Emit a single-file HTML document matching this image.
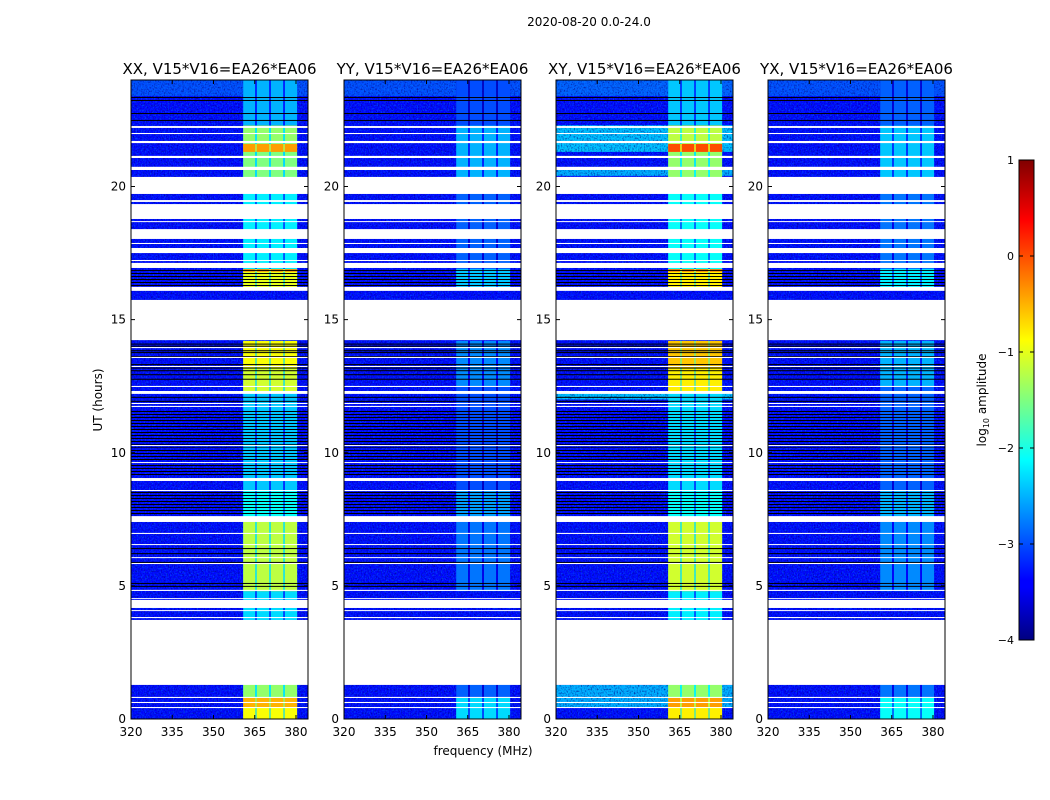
<!DOCTYPE html>
<html><head><meta charset="utf-8"><style>
html,body{margin:0;padding:0;background:#fff;}
svg{display:block;font-family:"DejaVu Sans","Liberation Sans",sans-serif;}
</style></head><body>
<svg id="fig" width="1050" height="800" viewBox="0 0 1050 800" xmlns="http://www.w3.org/2000/svg">
<defs>
<filter id="noise" x="0" y="0" width="100%" height="100%" filterUnits="objectBoundingBox" color-interpolation-filters="sRGB">
<feTurbulence type="fractalNoise" baseFrequency="0.7 0.55" numOctaves="2" seed="3" result="t"/>
<feColorMatrix in="t" type="matrix" values="0 0 0 0 0  0 0 0 0 0  0 0 0 0 0.5  2.0 0 0 0 -0.95"/>
</filter>
<filter id="noise2" x="0" y="0" width="100%" height="100%" filterUnits="objectBoundingBox" color-interpolation-filters="sRGB">
<feTurbulence type="fractalNoise" baseFrequency="0.75 0.6" numOctaves="2" seed="11" result="t"/>
<feColorMatrix in="t" type="matrix" values="0 0 0 0 0  0 0 0 0 0.55  0 0 0 0 1  0 2.2 0 0 -1.0"/>
</filter>
<pattern id="dense" width="4" height="3" patternUnits="userSpaceOnUse"><rect width="4" height="1" fill="#000"/></pattern>
<linearGradient id="jet" x1="0" y1="1" x2="0" y2="0">
<stop offset="0" stop-color="#000080"/><stop offset="0.11" stop-color="#0000ff"/><stop offset="0.125" stop-color="#0000ff"/>
<stop offset="0.375" stop-color="#00ffff"/><stop offset="0.625" stop-color="#ffff00"/><stop offset="0.875" stop-color="#ff0000"/><stop offset="1" stop-color="#800000"/>
</linearGradient>
</defs>
<text x="589" y="26" font-size="12" text-anchor="middle">2020-08-20 0.0-24.0</text>
<text x="483" y="755" font-size="12" text-anchor="middle">frequency (MHz)</text>
<text x="102" y="400" font-size="12" text-anchor="middle" transform="rotate(-90 102 400)">UT (hours)</text>
<g id="panels"></g>
<g id="cbar"></g>
</svg>
<script>
const panelTitles = ["XX, V15*V16=EA26*EA06","YY, V15*V16=EA26*EA06","XY, V15*V16=EA26*EA06","YX, V15*V16=EA26*EA06"];
const xTicks = [320,335,350,365,380];
const yTicks = [0,5,10,15,20];
const cbTicks = [1,0,-1,-2,-3,-4];
const bgLevel = -3.35;
const channels = [[360.8,365.1],[365.8,370.2],[370.9,375.3],[376.0,380.4]];
const gaps = [[22.20,22.27],[21.97,22.01],[21.63,21.71],[21.07,21.15],[20.62,20.74],[19.72,20.36],[19.42,19.49],[18.78,19.34],[18.67,18.70],[18.03,18.40],[17.84,17.88],[17.50,17.69],[17.20,17.24],[16.94,17.13],[16.08,16.23],[14.23,15.74],[13.93,13.97],[13.56,13.60],[13.22,13.26],[12.47,12.51],[12.21,12.32],[11.83,11.87],[11.72,11.76],[10.25,10.29],[9.62,9.65],[8.94,9.05],[8.56,8.60],[7.40,7.62],[6.95,6.99],[6.54,6.57],[6.05,6.08],[5.82,5.86],[4.81,4.85],[4.51,4.54],[4.17,4.47],[4.06,4.09],[3.79,3.83],[1.28,3.72],[0.79,0.83],[0.60,0.64],[0.41,0.45]];
const denseFlags = [[16.25,16.86],[10.3,11.6],[9.1,10.2],[7.66,8.55]];
const blackLines = [23.36,23.25,22.76,22.50,14.1,14.02,13.85,13.78,13.63,13.33,13.2,13.1,12.95,12.78,6.42,6.23,5.9,5.11,5.0,12.1,11.95];
const rfiXX = [[0,0.45,-0.9],[0.45,0.8,-0.5],[0.8,1.3,-1.4],[3.7,4.8,-2.3],[4.8,7.4,-1.2],[7.4,8.6,-2.1],[8.6,12.3,-2.4],[12.3,13.2,-1.1],[13.2,14.2,-0.9],[16.1,16.9,-1.0],[16.8,16.9,-0.3],[16.9,20.3,-2.2],[20.3,21.3,-1.5],[21.3,21.6,-0.4],[21.6,22.3,-1.4],[22.3,24,-2.5]];
const rfiYY = [[0,0.8,-2.3],[0.8,1.3,-2.9],[4.8,7.4,-2.8],[7.6,8.6,-2.6],[8.6,14.2,-3.0],[12.5,14.2,-2.7],[16.1,16.9,-2.4],[16.9,20.3,-2.9],[20.3,22.3,-2.5],[22.3,24,-3.0]];
const rfiXY = [[0,0.45,-0.8],[0.45,0.8,-0.4],[0.8,1.3,-1.4],[3.7,4.8,-2.2],[4.8,7.4,-1.1],[7.4,8.6,-2.1],[8.6,12.3,-2.3],[12.3,13.2,-0.8],[13.2,14.2,-0.6],[16.1,16.9,-0.8],[16.8,16.9,-0.2],[16.9,20.3,-2.1],[20.3,21.3,-1.4],[21.3,21.6,0.0],[21.6,22.3,-1.2],[22.3,24,-2.4]];
const rfiYX = [[0,0.8,-2.1],[0.8,1.3,-2.8],[4.8,7.4,-2.7],[7.6,8.6,-2.5],[8.6,14.2,-2.9],[12.5,14.2,-2.5],[16.1,16.9,-2.2],[16.9,20.3,-2.8],[20.3,22.3,-2.4],[22.3,24,-2.9]];
const broadXY = [[0.45,1.28,-2.5],[12.0,12.3,-2.4],[21.3,22.3,-2.4],[20.4,20.62,-2.5],[23.4,24,-2.9]];
const broadOthers = [[23.4,24,-3.0]];
const panelRfi = [rfiXX,rfiYY,rfiXY,rfiYX];
const panelBroad = [broadOthers,broadOthers,broadXY,broadOthers];

const NS="http://www.w3.org/2000/svg";
const panelX=[131,344,556,768], PW=177, PY=80, PH=639;
const fMin=320, fMax=320+PW/2.75, vMin=-4, vMax=1;
function clamp(v){return Math.max(0,Math.min(1,v));}
function jet(v){const t=clamp((v-vMin)/(vMax-vMin));const r=clamp(1.5-Math.abs(4*t-3)),g=clamp(1.5-Math.abs(4*t-2)),b=clamp(1.5-Math.abs(4*t-1));return `rgb(${Math.round(r*255)},${Math.round(g*255)},${Math.round(b*255)})`;}
function mk(tag,attrs,parent){const e=document.createElementNS(NS,tag);for(const k in attrs)e.setAttribute(k,attrs[k]);parent.appendChild(e);return e;}
const root=document.getElementById('panels');
panelX.forEach((x0,pi)=>{
  const xs=f=>x0+(f-fMin)/(fMax-fMin)*PW;
  const ys=h=>PY+PH-(h/24)*PH;
  const g=mk('g',{},root);
  
  
  const bg=mk('rect',{x:x0,y:PY,width:PW,height:PH,fill:jet(bgLevel)},g);
  
  
  panelBroad[pi].forEach(s=>{const r=mk('rect',{x:x0,y:ys(s[1]),width:PW,height:ys(s[0])-ys(s[1]),fill:jet(s[2])},g);
    
    });
  mk('rect',{x:x0,y:PY,width:PW,height:PH,fill:'#000',filter:'url(#noise)'},g);
  mk('rect',{x:x0,y:PY,width:PW,height:PH,fill:'#000',filter:'url(#noise2)',opacity:0.6},g);
  panelRfi[pi].forEach(s=>{
    const between=mk('rect',{x:xs(channels[0][0]),y:ys(s[1]),width:xs(channels[3][1])-xs(channels[0][0]),height:ys(s[0])-ys(s[1]),fill:jet(s[2]-0.7),opacity:0.9},g);
    
    
    channels.forEach(c=>{const r=mk('rect',{x:xs(c[0]),y:ys(s[1]),width:xs(c[1])-xs(c[0]),height:ys(s[0])-ys(s[1]),fill:jet(s[2])},g);
      
      });
  });
  denseFlags.forEach(d=>{const r=mk('rect',{x:x0,y:ys(d[1]),width:PW,height:ys(d[0])-ys(d[1]),fill:'url(#dense)'},g);
    
    });
  blackLines.forEach(h=>{const r=mk('rect',{x:x0,y:ys(h),width:PW,height:1,fill:'#000'},g);
    
    });
  gaps.forEach(d=>{const r=mk('rect',{x:x0,y:ys(d[1]),width:PW,height:Math.max(1,ys(d[0])-ys(d[1])),fill:'#fff'},g);
    
    });
  const fr=mk('rect',{x:x0,y:PY,width:PW,height:PH,fill:'none',stroke:'#000','stroke-width':1},g);
  
  
  xTicks.forEach(t=>{const X=xs(t);
    mk('line',{x1:X,y1:PY+PH,x2:X,y2:PY+PH-4,stroke:'#000'},g);
    mk('line',{x1:X,y1:PY,x2:X,y2:PY+4,stroke:'#000'},g);
    const tx=mk('text',{x:X,y:PY+PH+17,'font-size':12,'text-anchor':'middle'},g);tx.textContent=t;
    
    });
  yTicks.forEach(t=>{const Y=ys(t);
    mk('line',{x1:x0,y1:Y,x2:x0+4,y2:Y,stroke:'#000'},g);
    mk('line',{x1:x0+PW,y1:Y,x2:x0+PW-4,y2:Y,stroke:'#000'},g);
    const tx=mk('text',{x:x0-5,y:Y+4,'font-size':12,'text-anchor':'end'},g);tx.textContent=t;
    
    });
  const tt=mk('text',{x:x0+PW/2,y:74,'font-size':15,'text-anchor':'middle'},g);tt.textContent=panelTitles[pi];
  
  
});
const cb=document.getElementById('cbar');
const CX=1019,CW=15,CY=160,CH=480;
mk('rect',{x:CX,y:CY,width:CW,height:CH,fill:'url(#jet)',stroke:'#000','stroke-width':1},cb);
cbTicks.forEach(t=>{const Y=CY+(vMax-t)/(vMax-vMin)*CH;
  mk('line',{x1:CX,y1:Y,x2:CX+4,y2:Y,stroke:'#000'},cb);
  mk('line',{x1:CX+CW,y1:Y,x2:CX+CW-4,y2:Y,stroke:'#000'},cb);
  const tx=mk('text',{x:CX-5,y:Y+4,'font-size':11,'text-anchor':'end'},cb);tx.textContent=(t<0?'\u2212'+(-t):t);
  
  });
const lbl=mk('text',{x:986,y:400,'font-size':12,'text-anchor':'middle',transform:'rotate(-90 986 400)'},cb);
lbl.innerHTML='log<tspan font-size="8" dy="3">10</tspan><tspan dy="-3"> amplitude</tspan>';


</script>
</body></html>
